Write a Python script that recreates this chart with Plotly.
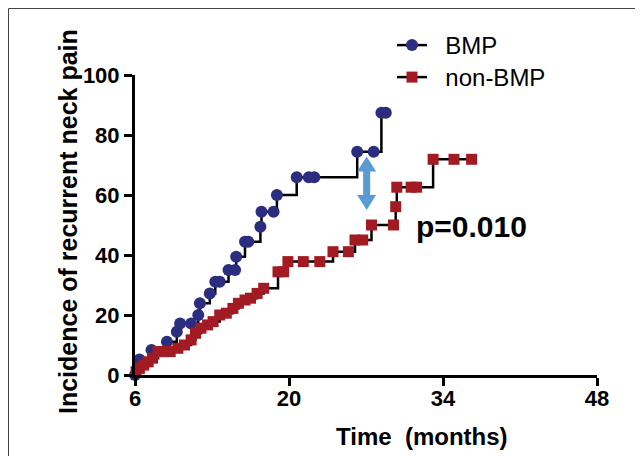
import plotly.graph_objects as go

# BMP group: event times (months) and cumulative incidence (%)
bmp_time = [6.0, 6.4, 7.5, 8.9, 9.8, 10.1, 11.1, 11.75, 11.9, 12.8, 13.3, 13.7, 14.5, 15.1, 15.2,
            16.0, 16.3, 17.4, 17.5, 18.6, 18.9, 20.7, 21.8, 22.3, 26.2, 27.7, 28.4, 28.8]
bmp_inc = [0.0, 5.2, 8.3, 11.1, 14.4, 17.2, 17.2, 20.0, 23.9, 27.2, 31.1, 31.1, 35.0, 35.0, 39.4,
           44.4, 44.4, 49.4, 54.4, 54.4, 60.0, 65.9, 65.9, 65.9, 74.4, 74.4, 87.4, 87.4]

# non-BMP group
non_time = [6.1, 6.4, 6.8, 7.2, 7.6, 8.1, 8.6, 9.2, 9.9, 10.5, 11.1, 11.5, 12.0, 12.6, 13.1, 13.7,
            14.3, 14.9, 15.4, 16.0, 16.5, 17.1, 17.7, 19.0, 19.5, 19.9, 21.3, 22.8, 24.0, 25.4,
            26.0, 26.7, 27.5, 29.5, 29.7, 29.8, 31.1, 31.6, 33.1, 35.0, 36.6]
non_inc = [1.1, 2.2, 3.3, 4.4, 5.6, 7.8, 7.8, 7.8, 8.9, 10.0, 11.7, 13.9, 15.6, 16.7, 17.8, 20.0,
           20.6, 22.2, 23.9, 25.0, 25.6, 27.2, 28.9, 34.4, 34.4, 37.8, 37.8, 37.8, 41.1, 41.1,
           45.0, 45.0, 50.0, 50.0, 56.1, 62.6, 62.6, 62.6, 71.9, 71.9, 71.9]

x_ticks = [6, 20, 34, 48]
y_ticks = [0, 20, 40, 60, 80, 100]

BLUE = "#2b2d7e"
RED = "#a31b22"
FONT = "Liberation Sans"

fig = go.Figure()
fig.add_trace(go.Scatter(
    x=bmp_time, y=bmp_inc, name="\u00a0\u00a0BMP", mode="lines+markers", line_shape="hv",
    line=dict(color="black", width=2.5),
    marker=dict(symbol="circle", size=12, color=BLUE, line=dict(width=0)),
    cliponaxis=False, legend="legend"))
fig.add_trace(go.Scatter(
    x=non_time, y=non_inc, name="\u00a0\u00a0non-BMP", mode="lines+markers", line_shape="hv",
    line=dict(color="black", width=2.5),
    marker=dict(symbol="square", size=11, color=RED, line=dict(width=0)),
    cliponaxis=False, legend="legend2"))

# double-headed arrow
ax = 27.06
hw, sw = 0.86, 0.32
top, hb, sb, bot = 72.8, 67.8, 60.0, 55.0
path = (f"M {ax},{top} L {ax+hw},{hb} L {ax+sw},{hb} L {ax+sw},{sb} L {ax+hw},{sb} "
        f"L {ax},{bot} L {ax-hw},{sb} L {ax-sw},{sb} L {ax-sw},{hb} L {ax-hw},{hb} Z")
shapes = [
    dict(type="path", path=path, xref="x", yref="y", fillcolor="#5b9bd5",
         line=dict(width=0)),
    dict(type="line", xref="paper", yref="paper", x0=-0.2738, x1=2, y0=1.2217, y1=1.2217,
         line=dict(color="#444", width=1)),
    dict(type="line", xref="paper", yref="paper", x0=-0.2738, x1=-0.2738, y0=1.2217, y1=-1,
         line=dict(color="#444", width=1)),
]

annotations = [
    dict(text="p=0.010", x=31.4, y=49.5, xref="x", yref="y", xanchor="left", yanchor="middle",
         showarrow=False, font=dict(family=FONT, size=30, color="black", weight="bold")),
    dict(text="Time\u00a0 (months)", x=(422 - 135) / 462, y=(375 - 437) / 300, xref="paper",
         yref="paper", xanchor="center", yanchor="middle", showarrow=False,
         font=dict(family=FONT, size=24, color="black", weight="bold")),
    dict(text="Incidence of recurrent neck pain", x=(68 - 135) / 462, y=(375 - 222) / 300,
         xref="paper", yref="paper", xanchor="center", yanchor="middle", textangle=-90,
         showarrow=False, font=dict(family=FONT, size=25, color="black", weight="bold")),
]

leg_common = dict(xanchor="left", yanchor="top", bgcolor="rgba(0,0,0,0)",
                  font=dict(family=FONT, size=24, color="black"))

fig.update_layout(
    width=643, height=456,
    margin=dict(l=127, r=54, t=67, b=89),
    paper_bgcolor="white", plot_bgcolor="white",
    showlegend=True,
    legend=dict(x=(392 - 135) / 462, y=(375 - 23) / 300, **leg_common),
    legend2=dict(x=(392 - 135) / 462, y=(375 - 55) / 300, **leg_common),
    shapes=shapes, annotations=annotations,
    xaxis=dict(range=[6, 48], tickvals=x_ticks, ticktext=[str(v) for v in x_ticks],
               showgrid=False, zeroline=False, showline=True, linecolor="black", linewidth=3,
               ticks="outside", ticklen=8, tickwidth=3, tickcolor="black",
               ticklabelstandoff=-6,
               tickfont=dict(family=FONT, size=22, color="black", weight="bold")),
    yaxis=dict(range=[0, 100], tickvals=y_ticks, ticktext=[str(v) for v in y_ticks],
               showgrid=False, zeroline=False, showline=True, linecolor="black", linewidth=3,
               ticks="outside", ticklen=8, tickwidth=3, tickcolor="black",
               tickfont=dict(family=FONT, size=22, color="black", weight="bold")),
)

fig.write_html("out.html")
